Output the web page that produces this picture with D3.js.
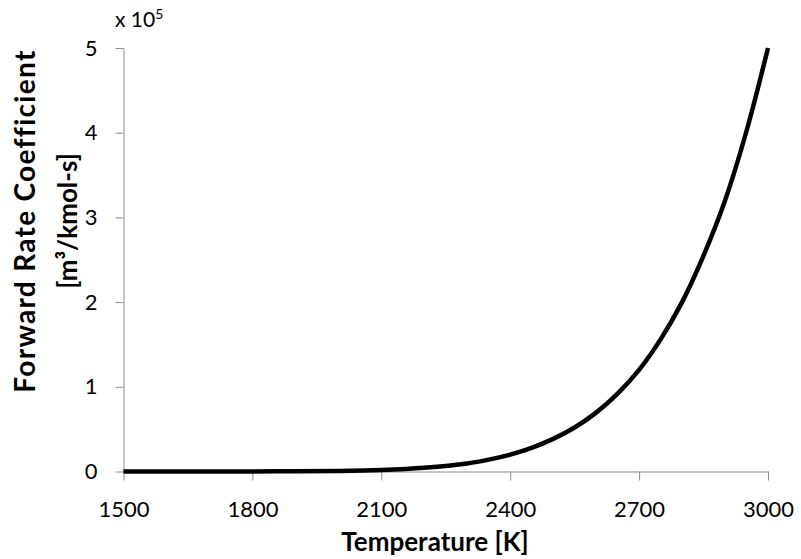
<!DOCTYPE html>
<html>
<head>
<meta charset="utf-8">
<script src="https://cdn.jsdelivr.net/npm/d3@7"></script>
<style>
  body { margin: 0; background: #fff; }
  svg text { font-family: Lato, "Open Sans", sans-serif; fill: #000; }
</style>
</head>
<body>
<div id="chart"></div>
<script>
// temperature [K] and forward rate coefficient [x 1e5 m3/kmol-s]
const temperatures = [1500, 1600, 1700, 1800, 1900, 2000, 2100, 2200, 2300, 2350, 2400, 2450,
  2500, 2550, 2600, 2650, 2700, 2750, 2800, 2850, 2900, 2950, 3000];
const rateValues = [0.00001, 0.00005, 0.0002, 0.0008, 0.0025, 0.007, 0.019, 0.045, 0.095, 0.14, 0.20, 0.28,
  0.385, 0.52, 0.695, 0.92, 1.2, 1.56, 2.0, 2.55, 3.2, 4.02, 5.0];
const xTicks = [1500, 1800, 2100, 2400, 2700, 3000];
const yTicks = [0, 1, 2, 3, 4, 5];

const width = 801;
const height = 559;

const dim = {
  left: 123.5,
  right: 768,
  top: 48,
  bottom: 471.5,
};

const svg = d3.select('#chart').append('svg')
  .attr('width', width)
  .attr('height', height);

const xScale = d3.scaleLinear().domain([1500, 3000]).range([dim.left, dim.right]);
const yScale = d3.scaleLinear().domain([0, 5]).range([dim.bottom, dim.top]);

// axes
const xAxis = svg.append('g')
  .attr('transform', `translate(0, ${dim.bottom})`)
  .call(d3.axisBottom(xScale).tickValues(xTicks).tickFormat(d3.format('d'))
    .tickSize(9).tickSizeOuter(0).tickPadding(21));

const yAxis = svg.append('g')
  .attr('transform', `translate(${dim.left}, 0)`)
  .call(d3.axisLeft(yScale).tickValues(yTicks).tickFormat(d3.format('d'))
    .tickSize(8).tickSizeOuter(0).tickPadding(18));

[xAxis, yAxis].forEach(axis => {
  axis.select('.domain').attr('stroke', '#8c8c8c');
  axis.selectAll('.tick line').attr('stroke', '#8c8c8c');
  axis.selectAll('.tick text')
    .style('font-size', '22px')
    .attr('fill', '#222');
});
xAxis.selectAll('.tick text').attr('dy', '0.72em');

// curve
const line = d3.line()
  .x((d, i) => xScale(temperatures[i]))
  .y(d => yScale(d))
  .curve(d3.curveCatmullRom.alpha(0.5));

svg.append('path')
  .datum(rateValues)
  .attr('d', line)
  .attr('fill', 'none')
  .attr('stroke', '#000')
  .attr('stroke-width', 4.5);

// multiplier label
const mult = svg.append('text')
  .attr('x', 115)
  .attr('y', 27)
  .style('font-size', '21px')
  .attr('fill', '#222');
mult.append('tspan').text('x 10');
mult.append('tspan').text('5').attr('dy', -8).style('font-size', '14px');

// axis titles
svg.append('text')
  .attr('x', 435)
  .attr('y', 551)
  .attr('text-anchor', 'middle')
  .style('font-size', '26px')
  .style('font-weight', 'bold')
  .text('Temperature [K]');

const yTitle = svg.append('text')
  .attr('transform', 'translate(35, 221) rotate(-90)')
  .attr('text-anchor', 'middle')
  .style('font-weight', 'bold');
yTitle.append('tspan').attr('x', 0).attr('y', 0)
  .style('font-size', '28px')
  .style('letter-spacing', '1.3px')
  .text('Forward Rate Coefficient');
yTitle.append('tspan').attr('x', 0).attr('y', 42)
  .style('font-size', '26px')
  .text('[m³/kmol-s]');
</script>
</body>
</html>
